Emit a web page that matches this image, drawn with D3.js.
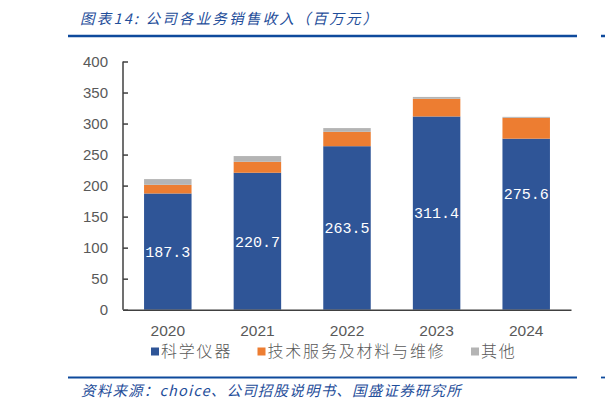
<!DOCTYPE html>
<html><head><meta charset="utf-8">
<script src="https://cdn.jsdelivr.net/npm/d3@7"></script>
<style>
html,body{margin:0;padding:0;background:#fff;}
svg{display:block;}
</style></head>
<body>
<svg id="chart" width="605" height="410"></svg>
<script>
const years = ["2020","2021","2022","2023","2024"];
const instruments = [187.3, 220.7, 263.5, 311.4, 275.6];
const techService = [14.0, 17.7, 23.2, 28.5, 33.6];
const others = [9.2, 9.2, 6.0, 3.0, 1.6];
const seriesNames = ["科学仪器", "技术服务及材料与维修", "其他"];
const seriesColors = ["#2F5597", "#ED7D31", "#B4B4B4"];
const yTicks = [0, 50, 100, 150, 200, 250, 300, 350, 400];
const titleText = "图表14:  公司各业务销售收入（百万元）";
const sourceText = "资料来源：choice、公司招股说明书、国盛证券研究所";

const svg = d3.select("#chart");
const blue = "#1F4E9A";

// header
svg.append("text").attr("x", 80).attr("y", 24)
  .attr("font-family", "'Noto Sans CJK SC', sans-serif")
  .attr("font-size", 14.5).attr("font-style", "italic")
  .attr("letter-spacing", 2.2)
  .attr("fill", blue).text(titleText);
svg.append("line").attr("x1", 68).attr("x2", 577).attr("y1", 36).attr("y2", 36)
  .attr("stroke", "#0E4A9C").attr("stroke-width", 2.5);
svg.append("line").attr("x1", 601).attr("x2", 605).attr("y1", 36).attr("y2", 36)
  .attr("stroke", "#0E4A9C").attr("stroke-width", 2.5);

// footer
svg.append("line").attr("x1", 68).attr("x2", 577).attr("y1", 377.5).attr("y2", 377.5)
  .attr("stroke", "#0E4A9C").attr("stroke-width", 1.8);
svg.append("line").attr("x1", 601).attr("x2", 605).attr("y1", 377.5).attr("y2", 377.5)
  .attr("stroke", "#0E4A9C").attr("stroke-width", 1.8);
svg.append("text").attr("x", 81).attr("y", 396)
  .attr("font-family", "'Noto Sans CJK SC', sans-serif")
  .attr("font-size", 14.5).attr("font-style", "italic")
  .attr("letter-spacing", 1.2)
  .attr("fill", blue).text(sourceText);

// scales
const x = d3.scaleBand().domain(years).range([123, 571]).paddingInner(0.47).paddingOuter(0.235);
const y = d3.scaleLinear().domain([0, 400]).range([309.7, 61.5]);

const table = years.map((yr, i) => ({year: yr, s0: instruments[i], s1: techService[i], s2: others[i]}));
const stack = d3.stack().keys(["s0", "s1", "s2"])(table);

const g = svg.append("g");
stack.forEach((layer, li) => {
  g.append("g").selectAll("rect").data(layer).join("rect")
    .attr("x", d => x(d.data.year))
    .attr("width", x.bandwidth())
    .attr("y", d => y(d[1]))
    .attr("height", d => y(d[0]) - y(d[1]))
    .attr("fill", seriesColors[li]);
});

// value labels
g.append("g").selectAll("text").data(instruments).join("text")
  .attr("x", (d, i) => x(years[i]) + x.bandwidth() / 2)
  .attr("y", (d, i) => y(d * (i === 4 ? 0.68 : 0.5)))
  .attr("dy", "0.36em")
  .attr("text-anchor", "middle")
  .attr("font-family", "'Liberation Mono', monospace")
  .attr("font-size", 15)
  .attr("fill", "#fff")
  .text(d => d.toFixed(1));

// axes
const yAxis = d3.axisLeft(y).tickValues(yTicks).tickSize(-5).tickPadding(15);
const ya = svg.append("g").attr("transform", "translate(123,0)").call(yAxis);
ya.select(".domain").attr("stroke", "#404040").attr("stroke-width", 1.5)
  .attr("d", `M0,${y(0)}V${y(400)}`);
ya.selectAll(".tick line").attr("stroke", "#404040").attr("stroke-width", 1.5);
ya.selectAll(".tick text").attr("fill", "#595959")
  .attr("font-family", "'Liberation Sans', Arial, sans-serif").attr("font-size", 15);

const xAxis = d3.axisBottom(x).tickSize(0).tickPadding(15);
const xa = svg.append("g").attr("transform", `translate(0,${y(0)})`).call(xAxis);
xa.select(".domain").attr("stroke", "#404040").attr("stroke-width", 1.5);
xa.selectAll(".tick text").attr("fill", "#595959")
  .attr("font-family", "'Liberation Sans', Arial, sans-serif").attr("font-size", 15.5);

// legend
const legendX = [151, 257.5, 471];
const lg = svg.append("g");
seriesNames.forEach((name, i) => {
  lg.append("rect").attr("x", legendX[i]).attr("y", 347.5).attr("width", 8).attr("height", 8)
    .attr("fill", seriesColors[i]);
  lg.append("text").attr("x", legendX[i] + 10).attr("y", 351.5).attr("dy", "0.36em")
    .attr("font-family", "'Noto Sans CJK SC', sans-serif")
    .attr("font-size", 16).attr("font-weight", 300)
    .attr("letter-spacing", 1.8)
    .attr("fill", "#595959").text(name);
});
</script>
</body></html>
